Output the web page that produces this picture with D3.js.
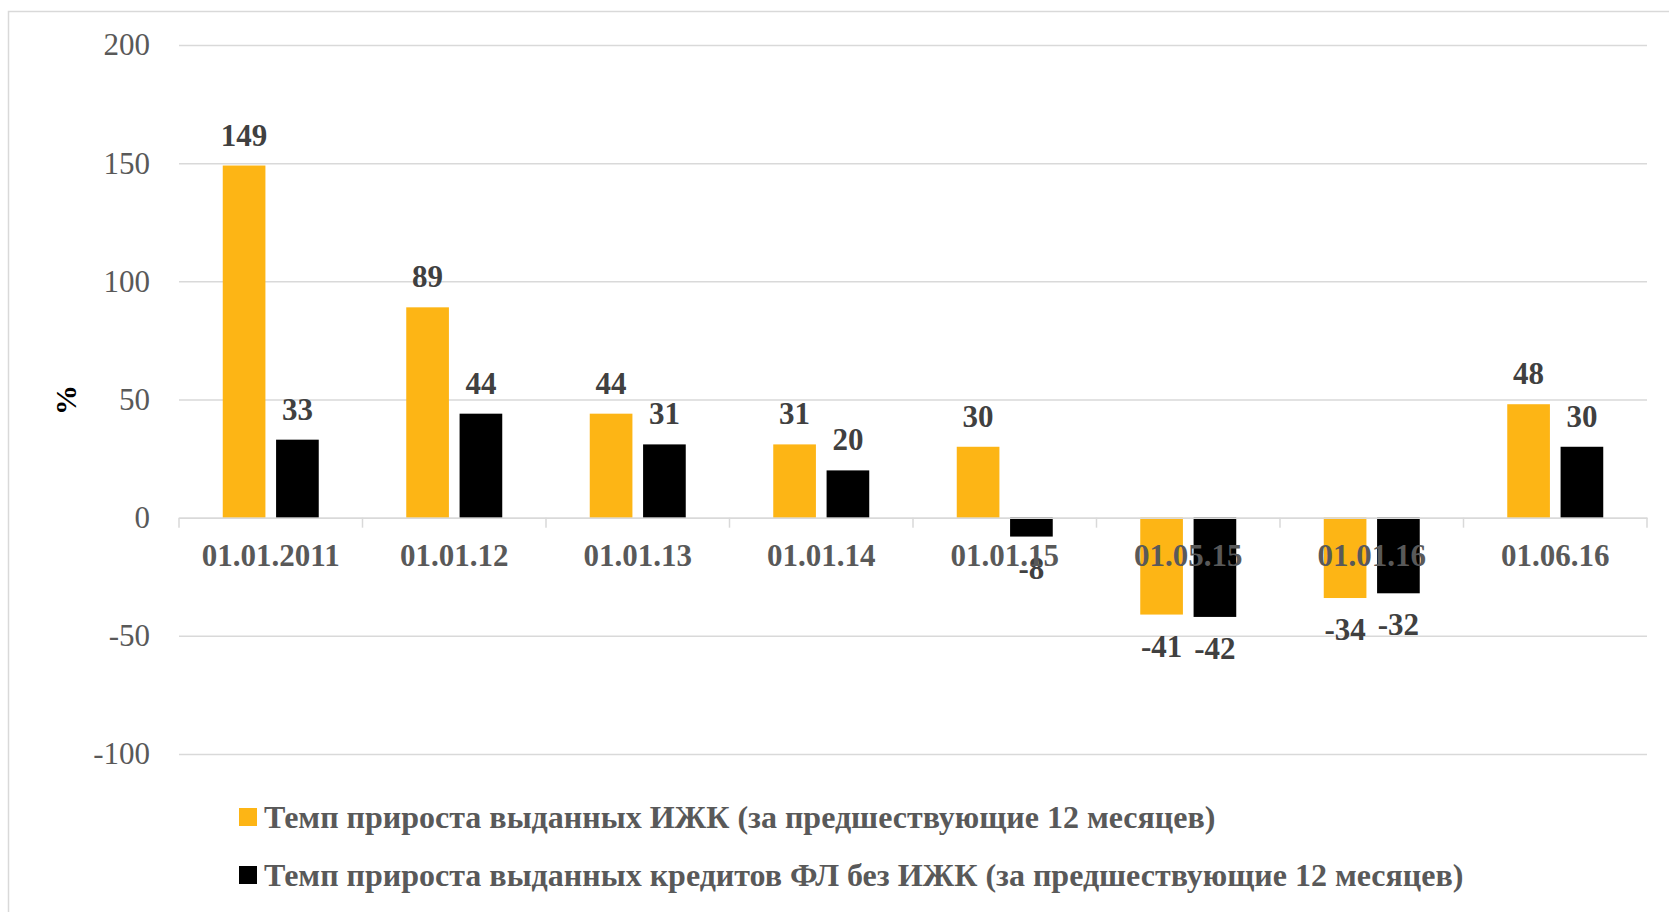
<!DOCTYPE html>
<html>
<head>
<meta charset="utf-8">
<script src="https://cdn.jsdelivr.net/npm/d3@7"></script>
<style>
  body { margin: 0; background: #fff; }
  svg { font-family: "Liberation Serif", "Times New Roman", serif; }
</style>
</head>
<body>
<div id="chart"></div>
<script>
// data
var categories = ["01.01.2011", "01.01.12", "01.01.13", "01.01.14", "01.01.15", "01.05.15", "01.01.16", "01.06.16"];
var izhkGrowth = [149, 89, 44, 31, 30, -41, -34, 48];
var otherGrowth = [33, 44, 31, 20, -8, -42, -32, 30];
var seriesNames = [
  "Темп прироста выданных ИЖК (за предшествующие 12 месяцев)",
  "Темп прироста выданных кредитов ФЛ без ИЖК (за предшествующие 12 месяцев)"
];
var seriesColors = ["#FDB515", "#000000"];
var yTicks = [-100, -50, 0, 50, 100, 150, 200];

var svgWidth = 1669, svgHeight = 912;
var plot = { left: 179, right: 1647, top: 45, bottom: 754 };

var svg = d3.select("#chart").append("svg")
  .attr("width", svgWidth)
  .attr("height", svgHeight);

// outer frame
svg.append("rect")
  .attr("x", 8.5).attr("y", 11.5)
  .attr("width", svgWidth).attr("height", svgHeight)
  .attr("fill", "none")
  .attr("stroke", "#d9d9d9")
  .attr("stroke-width", 1.5);

var y = d3.scaleLinear().domain([-100, 200]).range([plot.bottom, plot.top]);
var x = d3.scaleBand().domain(categories).range([plot.left, plot.right]).padding(0);
var xSeries = d3.scaleBand().domain([0, 1]).range([-48, 48]).paddingInner(0.2);

// gridlines + y labels (plain hyphen for negatives, like the original)
var yAxis = d3.axisLeft(y)
  .tickValues(yTicks)
  .tickFormat(function(d) { return String(d); })
  .tickSize(-(plot.right - plot.left))
  .tickPadding(29);
var gy = svg.append("g")
  .attr("transform", "translate(" + plot.left + ",0)")
  .call(yAxis);
gy.select(".domain").remove();
gy.selectAll(".tick line").attr("stroke", "#d9d9d9").attr("stroke-width", 1.5);
gy.selectAll(".tick text")
  .attr("fill", "#595959")
  .attr("font-size", "31px")
  .attr("font-family", "Liberation Serif, Times New Roman, serif");

// bars
var rows = categories.map(function(c, i) { return { cat: c, vals: [izhkGrowth[i], otherGrowth[i]] }; });

var groups = svg.selectAll(".cat")
  .data(rows)
  .enter().append("g")
  .attr("class", "cat")
  .attr("transform", function(d) { return "translate(" + (x(d.cat) + x.bandwidth() / 2) + ",0)"; });

groups.selectAll("rect")
  .data(function(d) { return d.vals.map(function(v, s) { return { v: v, s: s }; }); })
  .enter().append("rect")
  .attr("x", function(d) { return xSeries(d.s); })
  .attr("width", xSeries.bandwidth())
  .attr("y", function(d) { return y(Math.max(0, d.v)); })
  .attr("height", function(d) { return Math.abs(y(d.v) - y(0)); })
  .attr("fill", function(d) { return seriesColors[d.s]; });

// zero axis with category ticks
var xAxis = d3.axisBottom(x).tickSize(0).tickPadding(26);
var gx = svg.append("g")
  .attr("transform", "translate(0," + y(0) + ")")
  .call(xAxis);
gx.select(".domain").attr("stroke", "#d9d9d9").attr("stroke-width", 1.5);
gx.selectAll(".tick text")
  .attr("fill", "#595959")
  .attr("font-size", "31px")
  .attr("font-weight", "bold")
  .attr("font-family", "Liberation Serif, Times New Roman, serif");
gx.selectAll(".sep")
  .data(categories.concat(["end"]))
  .enter().append("line")
  .attr("class", "sep")
  .attr("x1", function(d, i) { return plot.left + i * x.step(); })
  .attr("x2", function(d, i) { return plot.left + i * x.step(); })
  .attr("y1", 0).attr("y2", 10)
  .attr("stroke", "#d9d9d9").attr("stroke-width", 1.5);

// value labels
groups.selectAll(".val")
  .data(function(d) { return d.vals.map(function(v, s) { return { v: v, s: s }; }); })
  .enter().append("text")
  .attr("class", "val")
  .attr("x", function(d) { return xSeries(d.s) + xSeries.bandwidth() / 2; })
  .attr("y", function(d) { return d.v >= 0 ? y(d.v) - 20 : y(d.v) + 42; })
  .attr("text-anchor", "middle")
  .attr("font-size", "31px")
  .attr("font-weight", "bold")
  .attr("fill", "#404040")
  .text(function(d) { return d.v; });

// y axis title
svg.append("text")
  .attr("transform", "translate(76,400) rotate(-90)")
  .attr("text-anchor", "middle")
  .attr("font-size", "30px")
  .attr("font-weight", "bold")
  .attr("fill", "#000")
  .text("%");

// legend
var legend = svg.selectAll(".legend")
  .data(seriesNames)
  .enter().append("g")
  .attr("class", "legend")
  .attr("transform", function(d, i) { return "translate(239," + (808 + i * 58) + ")"; });

legend.append("rect")
  .attr("width", 18).attr("height", 18)
  .attr("fill", function(d, i) { return seriesColors[i]; });

legend.append("text")
  .attr("x", 25)
  .attr("y", 20)
  .attr("font-size", "32px")
  .attr("font-weight", "bold")
  .attr("fill", "#595959")
  .text(function(d) { return d; });
</script>
</body>
</html>
